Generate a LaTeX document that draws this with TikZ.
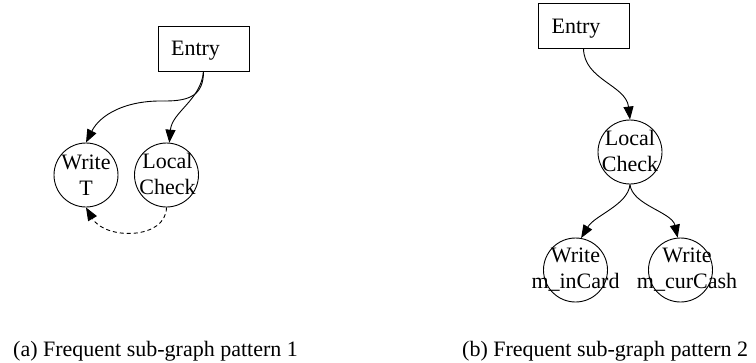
\documentclass[tikz,border=0pt]{standalone}
\usepackage{fontspec}
\setmainfont{Liberation Serif}
\usetikzlibrary{arrows.meta}
\begin{document}
\begin{tikzpicture}[x=1pt,y=-1pt,
  every node/.style={font=\fontsize{22}{26}\selectfont},
  box/.style={draw,line width=0.9pt,minimum width=91pt,minimum height=45pt,inner sep=0pt},
  circ/.style={draw,circle,line width=0.9pt,minimum size=64pt,inner sep=0pt},
  txt/.style={inner sep=0pt,align=center},
  lbl/.style={inner sep=0pt,anchor=base},
  captext/.style={inner sep=0pt,anchor=base west},
  edge/.style={line width=0.9pt,-{Triangle[length=13pt,width=10pt]}},
  dedge/.style={edge,dash pattern=on 4pt off 3pt}]
\useasboundingbox (0,0) rectangle (756,362);
% ---- panel (a)
\node[box] (entryA) at (203.5,48.5) {};
\node[lbl] (entryAt) at (195.5,55) {Entry};
\node[circ] (wt) at (86,175) {};
\node[txt] (wtt) at (86,175) {Write\\T};
\node[circ] (lc) at (166.5,175) {};
\node[txt] (lct) at (167.5,174) {Local\\Check};
\coordinate (mid) at (165,101);
\draw[line width=0.9pt] (entryA.south) .. controls (203.5,95) and (190,101) .. (mid);
\draw[edge] (mid) .. controls (125,100) and (100,115) .. (wt.north);
\draw[edge] (entryA.south) .. controls (201,100) and (172,112) .. (lc.85);
\draw[dedge] (lc.south) .. controls (166,240) and (105,240) .. (wt.south);
\node[captext] (capA) at (13,356) {(a) Frequent sub-graph pattern 1};
% ---- panel (b)
\node[box] (entryB) at (583.5,25.5) {};
\node[lbl] (entryBt) at (576,33) {Entry};
\node[circ] (lcB) at (630,152) {};
\node[txt] (lcBt) at (630,151) {Local\\Check};
\node[circ] (wc) at (575.5,270) {};
\node[txt] (wct) at (575.5,270) {Write\\m\_inCard};
\node[circ] (wk) at (680.5,270) {};
\node[txt] (wkt) at (687,270) {Write\\m\_curCash};
\draw[edge] (entryB.south) .. controls (584,80) and (626,85) .. (lcB.north);
\draw[edge] (lcB.south) .. controls (628,205) and (595,215) .. (wc.80);
\draw[edge] (lcB.south) .. controls (632,205) and (672,212) .. (wk.95);
\node[captext] (capB) at (462,356) {(b) Frequent sub-graph pattern 2};
\end{tikzpicture}
\end{document}
